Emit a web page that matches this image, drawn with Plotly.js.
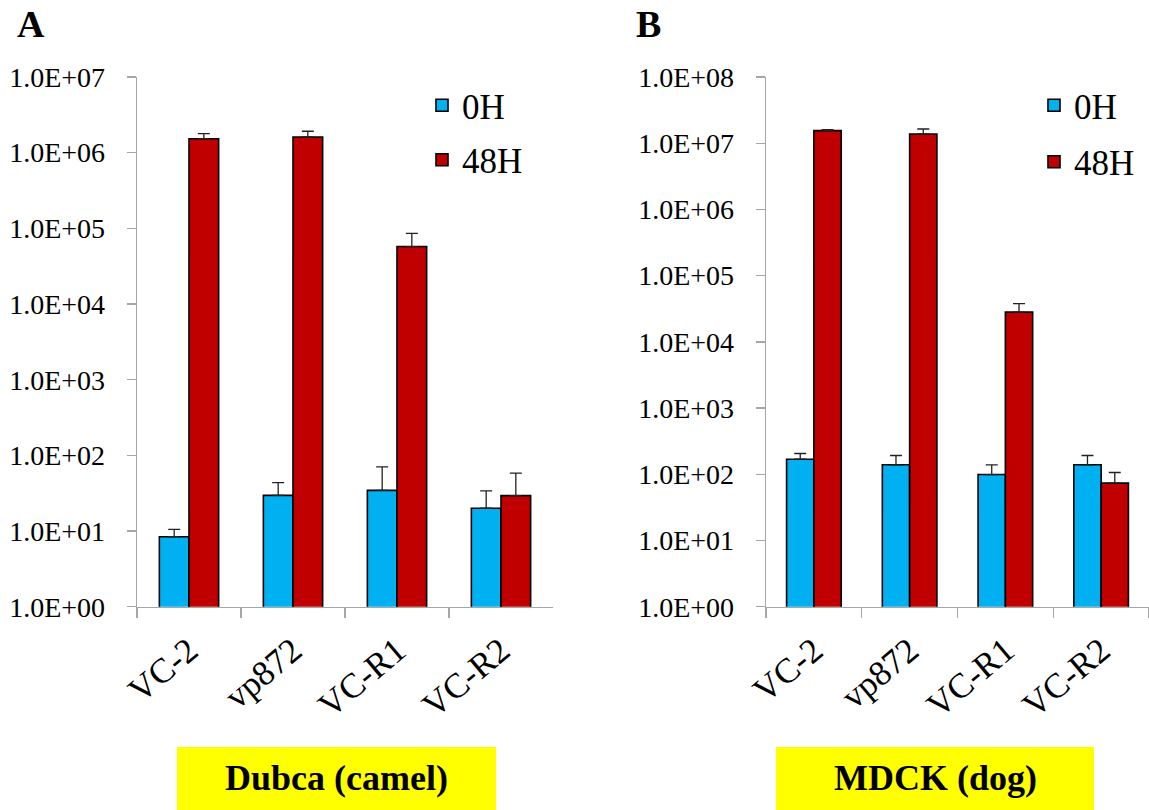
<!DOCTYPE html>
<html>
<head>
<meta charset="utf-8">
<script src="https://cdn.plot.ly/plotly-3.0.1.min.js"></script>
<style>
html,body{margin:0;padding:0;background:#fff;}
#chart{width:1149px;height:810px;}
</style>
</head>
<body>
<div id="chart"></div>
<script>
// ---- data ----
const categories = ["VC-2", "vp872", "VC-R1", "VC-R2"];
const seriesNames = ["0H", "48H"];

// Panel A: Dubca (camel)
const camel0H = [8.4, 29.6, 34.5, 20];
const camel0HErr = [2.1, 14, 36, 14];
const camel48H = [1.53e6, 1.61e6, 5.75e4, 29.4];
const camel48HErr = [0.26e6, 0.31e6, 2.85e4, 29];

// Panel B: MDCK (dog)
const dog0H = [169, 139, 99, 139];
const dog0HErr = [37, 53, 40, 53];
const dog48H = [1.55e7, 1.38e7, 2.81e4, 73.4];
const dog48HErr = [0.05e7, 0.26e7, 0.96e4, 33];

const tickValsA = [1, 10, 100, 1e3, 1e4, 1e5, 1e6, 1e7];
const tickTextA = ["1.0E+00","1.0E+01","1.0E+02","1.0E+03","1.0E+04","1.0E+05","1.0E+06","1.0E+07"];
const tickValsB = [1, 10, 100, 1e3, 1e4, 1e5, 1e6, 1e7, 1e8];
const tickTextB = ["1.0E+00","1.0E+01","1.0E+02","1.0E+03","1.0E+04","1.0E+05","1.0E+06","1.0E+07","1.0E+08"];

const panelTitles = ["Dubca (camel)", "MDCK (dog)"];
const panelLetters = ["A", "B"];

// ---- styling ----
const BLUE = "#00B0F0";
const RED = "#C00000";
const FONT = "'Liberation Serif', 'Times New Roman', serif";

function barTrace(name, y, err, color, xa, ya, leg, group) {
  return {
    type: "bar", name: name, x: categories, y: y,
    xaxis: xa, yaxis: ya, legend: leg, legendgroup: group,
    marker: {color: color, line: {color: "#000", width: 1.6}},
    error_y: {type: "data", symmetric: false, array: err,
      arrayminus: err.map(() => 0), color: "#222", thickness: 1.3, width: 6}
  };
}

const data = [
  barTrace(seriesNames[0], camel0H, camel0HErr, BLUE, "x", "y", "legend", "g0"),
  barTrace(seriesNames[1], camel48H, camel48HErr, RED, "x", "y", "legend", "g1"),
  barTrace(seriesNames[0], dog0H, dog0HErr, BLUE, "x2", "y2", "legend2", "g0"),
  barTrace(seriesNames[1], dog48H, dog48HErr, RED, "x2", "y2", "legend2", "g1")
];

const W = 1149, H = 810;
const yDom = [1 - 606.7 / H, 1 - 77 / H];

function xAxis(domain, anchor) {
  return {
    domain: domain, anchor: anchor, type: "category",
    showline: true, linecolor: "#A6A6A6", linewidth: 1.3,
    ticks: "outside", tickson: "boundaries", ticklen: 10, tickcolor: "#A6A6A6", tickwidth: 1.3,
    tickangle: -40, ticklabelstandoff: 8,
    tickfont: {family: FONT, size: 35, color: "#000"},
    showgrid: false, zeroline: false, fixedrange: true
  };
}
function yAxis(range, vals, text, anchor) {
  return {
    domain: yDom, anchor: anchor, type: "log", range: range,
    tickmode: "array", tickvals: vals, ticktext: text,
    showline: true, linecolor: "#A6A6A6", linewidth: 1.3,
    ticks: "outside", ticklen: 9, tickcolor: "#A6A6A6", tickwidth: 1.3,
    ticklabelstandoff: 16,
    tickfont: {family: FONT, size: 28, color: "#000"},
    showgrid: false, zeroline: false, fixedrange: true
  };
}

const layout = {
  width: W, height: H,
  margin: {l: 0, r: 0, t: 0, b: 0},
  paper_bgcolor: "#fff", plot_bgcolor: "#fff",
  font: {family: FONT, color: "#000"},
  barmode: "group", bargap: 0.43, bargroupgap: 0,
  xaxis: xAxis([137 / W, 553 / W], "y"),
  yaxis: yAxis([0, 7], tickValsA, tickTextA, "x"),
  xaxis2: xAxis([766 / W, 1], "y2"),
  yaxis2: yAxis([0, 8], tickValsB, tickTextB, "x2"),
  legend: {x: 422 / W, y: 1 - 76 / H, xanchor: "left", yanchor: "top",
    bgcolor: "rgba(0,0,0,0)", font: {family: FONT, size: 35, color: "#000"},
    traceorder: "grouped", tracegroupgap: 6, itemclick: false},
  legend2: {x: 1034 / W, y: 1 - 76 / H, xanchor: "left", yanchor: "top",
    bgcolor: "rgba(0,0,0,0)", font: {family: FONT, size: 35, color: "#000"},
    traceorder: "grouped", tracegroupgap: 8, itemclick: false},
  shapes: [
    {type: "rect", xref: "paper", yref: "paper", x0: 177 / W, x1: 496 / W,
      y0: 0, y1: 1 - 747 / H, fillcolor: "#FFFF00", line: {width: 0}, layer: "below"},
    {type: "rect", xref: "paper", yref: "paper", x0: 776 / W, x1: 1094 / W,
      y0: 0, y1: 1 - 747 / H, fillcolor: "#FFFF00", line: {width: 0}, layer: "below"}
  ],
  annotations: [
    {xref: "paper", yref: "paper", x: 336.5 / W, y: 1 - 778 / H, text: "<b>" + panelTitles[0] + "</b>",
      showarrow: false, font: {family: FONT, size: 36, color: "#000"}, xanchor: "center", yanchor: "middle"},
    {xref: "paper", yref: "paper", x: 935 / W, y: 1 - 778 / H, text: "<b>" + panelTitles[1] + "</b>",
      showarrow: false, font: {family: FONT, size: 36, color: "#000"}, xanchor: "center", yanchor: "middle"},
    {xref: "paper", yref: "paper", x: 31 / W, y: 1 - 24 / H, text: "<b>" + panelLetters[0] + "</b>",
      showarrow: false, font: {family: FONT, size: 38, color: "#000"}, xanchor: "center", yanchor: "middle"},
    {xref: "paper", yref: "paper", x: 648 / W, y: 1 - 24 / H, text: "<b>" + panelLetters[1] + "</b>",
      showarrow: false, font: {family: FONT, size: 38, color: "#000"}, xanchor: "center", yanchor: "middle"}
  ]
};

Plotly.newPlot("chart", data, layout, {staticPlot: true, displayModeBar: false});
</script>
</body>
</html>
